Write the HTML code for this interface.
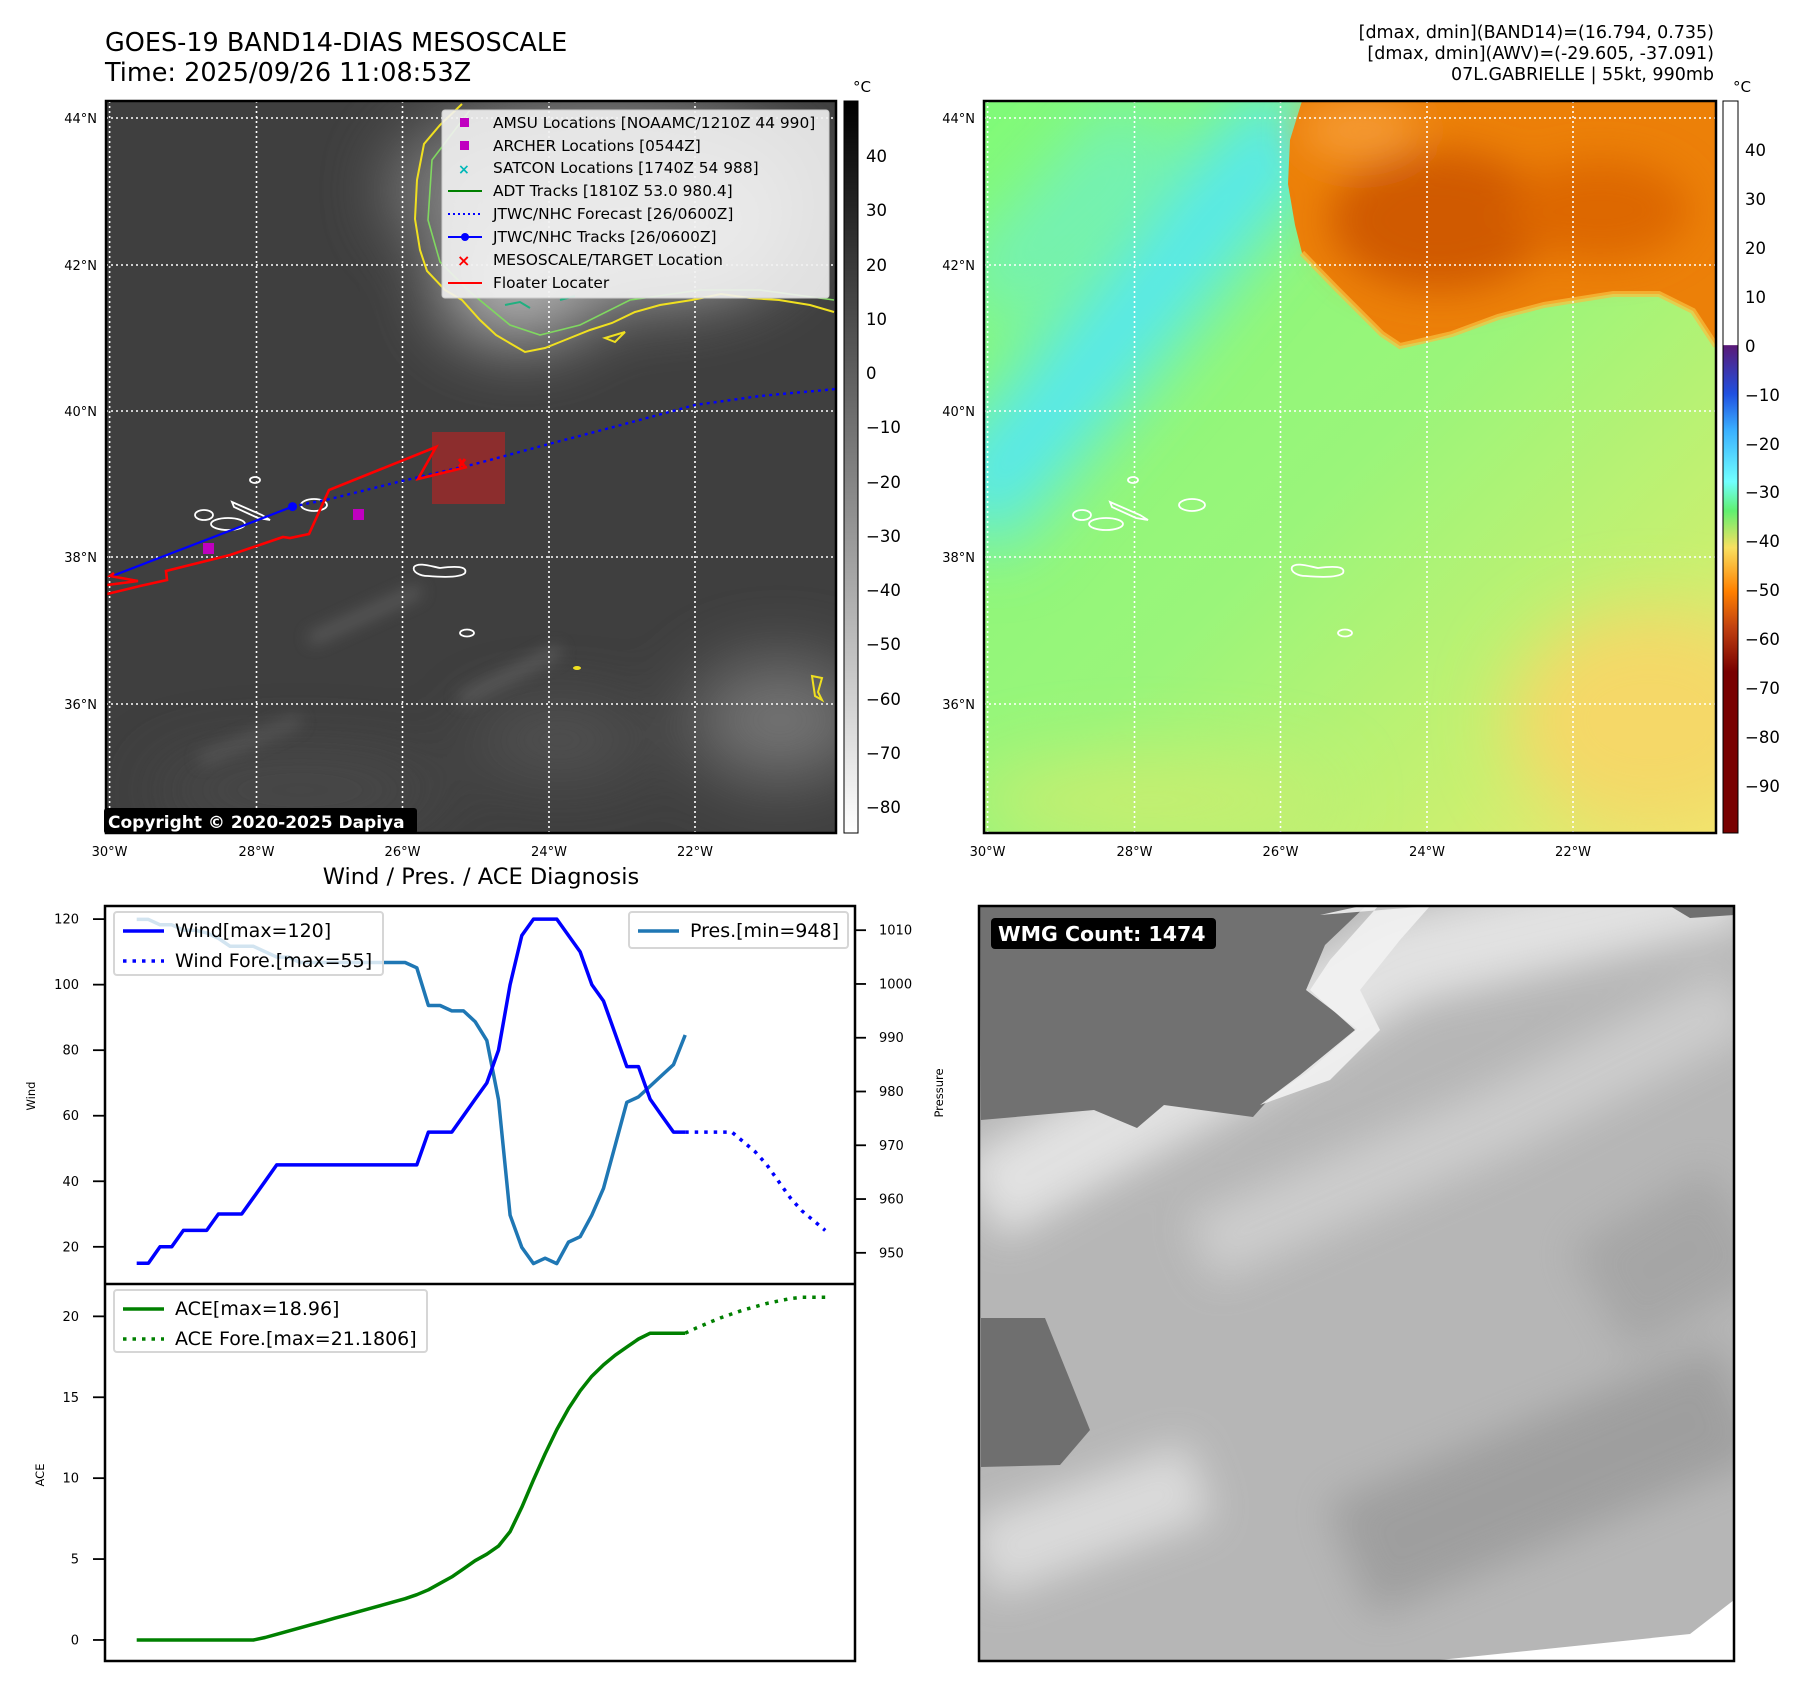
<!DOCTYPE html>
<html><head><meta charset="utf-8">
<style>
html,body{margin:0;padding:0;background:#fff;}
svg{display:block;font-family:"DejaVu Sans","Liberation Sans",sans-serif;}
</style></head>
<body>
<svg id="root" width="1797" height="1690" viewBox="0 0 1797 1690" xmlns="http://www.w3.org/2000/svg">
<defs>
  <filter id="blur8" x="-50%" y="-50%" width="200%" height="200%"><feGaussianBlur stdDeviation="8"/></filter>
  <filter id="blur20" x="-50%" y="-50%" width="200%" height="200%"><feGaussianBlur stdDeviation="20"/></filter>
  <filter id="blur35" x="-50%" y="-50%" width="200%" height="200%"><feGaussianBlur stdDeviation="35"/></filter>
  <clipPath id="clip1"><rect x="106" y="101" width="730" height="732"/></clipPath>
  <clipPath id="clip2"><rect x="984" y="101" width="732" height="732"/></clipPath>
  <clipPath id="clip4"><rect x="979" y="906" width="755" height="755"/></clipPath>
  <linearGradient id="cb1" x1="0" y1="0" x2="0" y2="1"><stop offset="0" stop-color="#000"/><stop offset="1" stop-color="#fff"/></linearGradient>
  <linearGradient id="cb2" x1="0" y1="0" x2="0" y2="1">
    <stop offset="0" stop-color="#fff"/><stop offset="0.333" stop-color="#fff"/>
    <stop offset="0.334" stop-color="#5a1a78"/>
    <stop offset="0.40" stop-color="#2050e0"/>
    <stop offset="0.45" stop-color="#3ab0ff"/>
    <stop offset="0.52" stop-color="#70ffff"/>
    <stop offset="0.56" stop-color="#60f070"/>
    <stop offset="0.61" stop-color="#f8e060"/>
    <stop offset="0.67" stop-color="#ff8000"/>
    <stop offset="0.72" stop-color="#c04010"/>
    <stop offset="0.78" stop-color="#780000"/>
    <stop offset="1" stop-color="#780000"/>
  </linearGradient>
  <linearGradient id="map2base" x1="0" y1="0" x2="1" y2="1">
    <stop offset="0" stop-color="#80fa78"/>
    <stop offset="0.5" stop-color="#9af57a"/>
    <stop offset="0.8" stop-color="#c8f070"/>
    <stop offset="1" stop-color="#f2e870"/>
  </linearGradient>
</defs>

<text x="105" y="51" font-size="25.5" fill="#000">GOES-19 BAND14-DIAS MESOSCALE</text>
<text x="105" y="81" font-size="25.5" fill="#000">Time: 2025/09/26 11:08:53Z</text>
<text x="1714" y="38" font-size="17.5" text-anchor="end">[dmax, dmin](BAND14)=(16.794, 0.735)</text>
<text x="1714" y="59" font-size="17.5" text-anchor="end">[dmax, dmin](AWV)=(-29.605, -37.091)</text>
<text x="1714" y="80" font-size="17.5" text-anchor="end">07L.GABRIELLE | 55kt, 990mb</text>

<g id="map1">
 <g clip-path="url(#clip1)">
  <rect x="106" y="101" width="730" height="732" fill="#3f3f3f"/>
  <g filter="url(#blur35)" opacity="0.9">
   <ellipse cx="600" cy="190" rx="210" ry="90" fill="#8a8a8a"/>
   <ellipse cx="520" cy="290" rx="80" ry="50" fill="#c8c8c8"/>
   <ellipse cx="640" cy="240" rx="150" ry="60" fill="#b0b0b0"/>
   <ellipse cx="780" cy="720" rx="90" ry="60" fill="#7a7a7a"/>
   <ellipse cx="560" cy="740" rx="90" ry="30" fill="#5a5a5a"/>
   <ellipse cx="300" cy="790" rx="150" ry="30" fill="#4e4e4e"/>
  </g>
  <g filter="url(#blur8)" opacity="0.6">
   <path d="M310 640 L420 590" stroke="#777" stroke-width="10"/>
   <path d="M460 700 L560 650" stroke="#777" stroke-width="10"/>
   <path d="M200 760 L300 720" stroke="#6a6a6a" stroke-width="10"/>
  </g>
  <g stroke="#fff" stroke-width="1.6" stroke-dasharray="2,3">
   <line x1="109.6" y1="101" x2="109.6" y2="833"/><line x1="256.5" y1="101" x2="256.5" y2="833"/><line x1="402.5" y1="101" x2="402.5" y2="833"/><line x1="549" y1="101" x2="549" y2="833"/><line x1="695" y1="101" x2="695" y2="833"/>
   <line x1="106" y1="118" x2="836" y2="118"/><line x1="106" y1="265" x2="836" y2="265"/><line x1="106" y1="411" x2="836" y2="411"/><line x1="106" y1="557" x2="836" y2="557"/><line x1="106" y1="704" x2="836" y2="704"/>
  </g>
  <path d="M462 104 L440 125 L424 144 L417 180 L415 219 L420 250 L427 271 L445 290 L462 300 L480 320 L496 335 L525 352 L545 348 L565 340 L590 330 L612 323 L635 312 L660 305 L692 300 L721 294 L750 298 L779 300 L810 305 L834 312" fill="none" stroke="#f0e020" stroke-width="2"/>
  <path d="M470 110 L432 160 L428 220 L440 262 L470 292 L510 325 L540 335 L580 325 L630 300 L700 290 L760 290 L834 300" fill="none" stroke="#80d860" stroke-width="1.6"/>
  <path d="M505 305 L520 302 L530 308 M560 300 L575 296" fill="none" stroke="#20b080" stroke-width="2"/>
  <path d="M605 338 L625 332 L615 342 Z" fill="none" stroke="#f0e020" stroke-width="2"/>
  <path d="M812 676 L822 678 L818 692 L822 700 L815 696 Z" fill="none" stroke="#f0e020" stroke-width="2"/>
  <ellipse cx="577" cy="668" rx="4" ry="2" fill="#f0e020"/>
  <g fill="none" stroke="#fff" stroke-width="1.8">
   <ellipse cx="255" cy="480" rx="5" ry="3"/>
   <ellipse cx="204" cy="515" rx="9" ry="5"/>
   <path d="M232 502 L262 515 L270 520 L258 518 L234 507 Z"/>
   <ellipse cx="228" cy="524" rx="17" ry="6"/>
   <ellipse cx="314" cy="505" rx="13" ry="6"/>
   <path d="M414 567 C418 562 430 566 440 568 C455 566 468 566 465 573 C460 578 440 577 428 576 C420 576 412 572 414 567 Z"/>
   <ellipse cx="467" cy="633" rx="7" ry="3.5"/>
  </g>
  <rect x="432" y="432" width="73" height="72" fill="#9a2a2a" opacity="0.85"/>
  <path d="M292.5 506.6 L330 499 L402 481 L475 464 L549 444 L621 425 L695 405 L760 396 L836 389" fill="none" stroke="#0000ff" stroke-width="2.4" stroke-dasharray="3,4"/>
  <path d="M109.6 577 L292.5 506.6" stroke="#0000ff" stroke-width="2.2"/>
  <circle cx="292.5" cy="506.6" r="4.5" fill="#0000ff"/>
  <path d="M107 594 L140 586 L167 580 L166 571 L230 555 L283 537 L290 538 L309 534 L329 490 L436 447 L418 479 L467 467 M107 585 L138 581 L110 576 L114 573" fill="none" stroke="#ff0000" stroke-width="2.6"/>
  <path d="M459 459 L465 467 M465 459 L459 467" stroke="#ff0000" stroke-width="3"/>
  <rect x="203" y="543" width="11" height="11" fill="#c000c0"/>
  <rect x="353" y="509" width="11" height="11" fill="#c000c0"/>
 </g>
 <rect x="106" y="101" width="730" height="732" fill="none" stroke="#000" stroke-width="2.5"/>
 <g>
  <rect x="442" y="110" width="387" height="188" rx="3" fill="#f2f2f2" fill-opacity="0.9" stroke="#ccc"/>
  <g font-size="15.4" fill="#000">
   <rect x="460" y="118" width="9" height="9" fill="#c000c0"/><text x="493" y="128">AMSU Locations [NOAAMC/1210Z 44 990]</text>
   <rect x="460" y="141" width="9" height="9" fill="#c000c0"/><text x="493" y="151">ARCHER Locations [0544Z]</text>
   <text x="458" y="174" fill="#00b8b8" font-size="14" font-weight="bold">×</text><text x="493" y="173">SATCON Locations [1740Z 54 988]</text>
   <line x1="448" y1="191" x2="482" y2="191" stroke="#008000" stroke-width="2"/><text x="493" y="196">ADT Tracks [1810Z 53.0 980.4]</text>
   <line x1="448" y1="214" x2="482" y2="214" stroke="#0000ff" stroke-width="2" stroke-dasharray="2,3"/><text x="493" y="219">JTWC/NHC Forecast [26/0600Z]</text>
   <line x1="448" y1="237" x2="482" y2="237" stroke="#0000ff" stroke-width="2"/><circle cx="465" cy="237" r="4" fill="#0000ff"/><text x="493" y="242">JTWC/NHC Tracks [26/0600Z]</text>
   <text x="457" y="266" fill="#ff0000" font-size="16" font-weight="bold">×</text><text x="493" y="265">MESOSCALE/TARGET Location</text>
   <line x1="448" y1="283" x2="482" y2="283" stroke="#ff0000" stroke-width="2"/><text x="493" y="288">Floater Locater</text>
  </g>
 </g>
 <rect x="104" y="808" width="313" height="26" rx="3" fill="#000"/>
 <text x="108" y="828" font-size="17" font-weight="bold" fill="#fff">Copyright © 2020-2025 Dapiya</text>
 <g font-size="13" fill="#000" text-anchor="end">
  <text x="97" y="123">44°N</text><text x="97" y="270">42°N</text><text x="97" y="416">40°N</text><text x="97" y="562">38°N</text><text x="97" y="709">36°N</text>
 </g>
 <g font-size="13" fill="#000" text-anchor="middle">
  <text x="109.6" y="856">30°W</text><text x="256.5" y="856">28°W</text><text x="402.5" y="856">26°W</text><text x="549" y="856">24°W</text><text x="695" y="856">22°W</text>
 </g>
 <rect x="844" y="101" width="14" height="732" fill="url(#cb1)" stroke="#000" stroke-width="1"/>
 <text x="862" y="92" font-size="15" text-anchor="middle">°C</text>
 <g font-size="16.5" fill="#000">
  <text x="866" y="162">40</text><text x="866" y="216">30</text><text x="866" y="271">20</text><text x="866" y="325">10</text><text x="866" y="379">0</text><text x="866" y="433">−10</text><text x="866" y="488">−20</text><text x="866" y="542">−30</text><text x="866" y="596">−40</text><text x="866" y="650">−50</text><text x="866" y="705">−60</text><text x="866" y="759">−70</text><text x="866" y="813">−80</text>
 </g>
</g>

<g id="map2">
 <g clip-path="url(#clip2)">
  <rect x="984" y="101" width="732" height="732" fill="url(#map2base)"/>
  <g filter="url(#blur35)">
   <path d="M960 520 L1120 330 L1300 110" stroke="#55e8f0" stroke-width="100" fill="none"/>
   <path d="M980 300 L1150 120" stroke="#70f0c0" stroke-width="70" fill="none"/>
   <ellipse cx="1650" cy="720" rx="140" ry="110" fill="#f5d868"/>
   <ellipse cx="1150" cy="800" rx="180" ry="40" fill="#c8ee70"/>
  </g>
  <path d="M1302 101 L1290 140 L1288 184 L1295 225 L1302 253 L1336 288 L1382 334 L1400 346 L1430 340 L1452 334 L1498 317 L1544 305 L1613 294 L1659 294 L1693 311 L1716 346 L1716 101 Z" fill="#ec8008"/>
  <g filter="url(#blur20)">
   <ellipse cx="1440" cy="220" rx="110" ry="70" fill="#d05a00"/>
   <ellipse cx="1600" cy="210" rx="90" ry="50" fill="#dd6800"/>
   <ellipse cx="1360" cy="130" rx="60" ry="30" fill="#f59a30"/>
  </g>
  <path d="M1302 253 L1336 288 L1382 334 L1400 346 L1452 334 L1498 317 L1544 305 L1613 294 L1659 294 L1693 311 L1716 346" fill="none" stroke="#f8c040" stroke-width="6" opacity="0.7"/>
  <g stroke="#fff" stroke-width="1.6" stroke-dasharray="2,3">
   <line x1="987.6" y1="101" x2="987.6" y2="833"/><line x1="1134.5" y1="101" x2="1134.5" y2="833"/><line x1="1280.5" y1="101" x2="1280.5" y2="833"/><line x1="1427" y1="101" x2="1427" y2="833"/><line x1="1573" y1="101" x2="1573" y2="833"/>
   <line x1="984" y1="118" x2="1716" y2="118"/><line x1="984" y1="265" x2="1716" y2="265"/><line x1="984" y1="411" x2="1716" y2="411"/><line x1="984" y1="557" x2="1716" y2="557"/><line x1="984" y1="704" x2="1716" y2="704"/>
  </g>
  <g fill="none" stroke="#fff" stroke-width="1.8">
   <ellipse cx="1133" cy="480" rx="5" ry="3"/>
   <ellipse cx="1082" cy="515" rx="9" ry="5"/>
   <path d="M1110 502 L1140 515 L1148 520 L1136 518 L1112 507 Z"/>
   <ellipse cx="1106" cy="524" rx="17" ry="6"/>
   <ellipse cx="1192" cy="505" rx="13" ry="6"/>
   <path d="M1292 567 C1296 562 1308 566 1318 568 C1333 566 1346 566 1343 573 C1338 578 1318 577 1306 576 C1298 576 1290 572 1292 567 Z"/>
   <ellipse cx="1345" cy="633" rx="7" ry="3.5"/>
  </g>
 </g>
 <rect x="984" y="101" width="732" height="732" fill="none" stroke="#000" stroke-width="2.5"/>
 <g font-size="13" fill="#000" text-anchor="end">
  <text x="975" y="123">44°N</text><text x="975" y="270">42°N</text><text x="975" y="416">40°N</text><text x="975" y="562">38°N</text><text x="975" y="709">36°N</text>
 </g>
 <g font-size="13" fill="#000" text-anchor="middle">
  <text x="987.6" y="856">30°W</text><text x="1134.5" y="856">28°W</text><text x="1280.5" y="856">26°W</text><text x="1427" y="856">24°W</text><text x="1573" y="856">22°W</text>
 </g>
 <rect x="1723" y="101" width="15" height="732" fill="url(#cb2)" stroke="#000" stroke-width="1"/>
 <text x="1742" y="92" font-size="15" text-anchor="middle">°C</text>
 <g font-size="16.5" fill="#000">
  <text x="1745" y="156">40</text><text x="1745" y="205">30</text><text x="1745" y="254">20</text><text x="1745" y="303">10</text><text x="1745" y="352">0</text><text x="1745" y="401">−10</text><text x="1745" y="450">−20</text><text x="1745" y="498">−30</text><text x="1745" y="547">−40</text><text x="1745" y="596">−50</text><text x="1745" y="645">−60</text><text x="1745" y="694">−70</text><text x="1745" y="743">−80</text><text x="1745" y="792">−90</text>
 </g>
</g>

<g id="panel4">
 <g clip-path="url(#clip4)">
  <rect x="979" y="906" width="755" height="755" fill="#b6b6b6"/>
  <g filter="url(#blur20)" opacity="0.9">
   <path d="M980 1200 L1200 1080 L1400 960 L1740 880" stroke="#e6e6e6" stroke-width="90" fill="none"/>
   <path d="M1200 1250 L1500 1120 L1740 1000" stroke="#cfcfcf" stroke-width="70" fill="none"/>
   <path d="M1350 1560 L1740 1400" stroke="#9c9c9c" stroke-width="120" fill="none"/>
   <path d="M980 1560 L1200 1480" stroke="#dedede" stroke-width="80" fill="none"/>
   <path d="M1600 1300 L1740 1220" stroke="#a4a4a4" stroke-width="120" fill="none"/>
  </g>
  <path d="M980 904 L1368 904 L1325 945 L1306 990 L1357 1029 L1309 1071 L1271 1097 L1253 1117 L1164 1105 L1137 1128 L1094 1110 L981 1120 Z" fill="#717171"/>
  <path d="M981 1318 L1045 1318 L1070 1380 L1090 1430 L1060 1465 L981 1467 Z" fill="#6f6f6f"/>
  <path d="M1320 915 L1370 904 L1380 904 L1330 960 L1310 990 L1355 1030 L1300 1075 L1260 1105 L1330 1080 L1380 1030 L1360 990 L1400 940 L1430 906 Z" fill="#f2f2f2" opacity="0.9"/>
  <path d="M1670 906 L1734 906 L1734 915 L1690 918 Z" fill="#6f6f6f"/>
  <path d="M1430 1661 L1690 1634 L1734 1600 L1734 1661 Z" fill="#fff"/>
 </g>
 <rect x="979" y="906" width="755" height="755" fill="none" stroke="#000" stroke-width="2.5"/>
 <rect x="991" y="918" width="225" height="31" rx="4" fill="#000"/>
 <text x="998" y="941" font-size="20.5" font-weight="bold" fill="#fff">WMG Count: 1474</text>
</g>

<text x="481" y="884" font-size="22.5" text-anchor="middle">Wind / Pres. / ACE Diagnosis</text>
<g id="chart"></g>
</svg>

<script>
// ---- data ----
const wind = [15,15,20,20,25,25,25,30,30,30,35,40,45,45,45,45,45,45,45,45,45,45,45,45,45,55,55,55,60,65,70,80,100,115,120,120,120,115,110,100,95,85,75,75,65,60,55,55];
const windFore = [55,55,55,55,55,52,49,45,40,35,31,28,25];
const pres = [1012,1012,1011,1011,1010,1010,1009.5,1008.5,1007,1007,1007,1006,1005,1005,1004,1004,1004,1004,1004,1004,1004,1004,1004,1004,1003,996,996,995,995,993,989.5,978.5,957,951,948,949,948,952,953,957,962,970,978,979,981,983,985,990.5];
const ace = [0,0,0,0,0,0,0,0,0,0,0,0.15,0.35,0.55,0.75,0.95,1.15,1.35,1.55,1.75,1.95,2.15,2.35,2.55,2.8,3.1,3.5,3.9,4.4,4.9,5.3,5.8,6.7,8.2,9.9,11.5,13.0,14.3,15.4,16.3,17.0,17.6,18.1,18.6,18.96,18.96,18.96,18.96];
const aceFore = [18.96,19.3,19.6,19.9,20.15,20.4,20.6,20.8,20.95,21.1,21.18,21.18,21.18];
const windTicks = [20,40,60,80,100,120];
const presTicks = [950,960,970,980,990,1000,1010];
const aceTicks = [0,5,10,15,20];

const NS='http://www.w3.org/2000/svg';
const chart=document.getElementById('chart');
function mk(tag,attrs,parent){const e=document.createElementNS(NS,tag);for(const k in attrs)e.setAttribute(k,attrs[k]);(parent||chart).appendChild(e);return e;}
const L=105,R=855,T1=906,B1=1284,B2=1661;
const xs=i=>136.7+i*11.67;
const yWind=v=>T1+(124-v)/(124-8.65)*(B1-T1);
const yPres=v=>T1+(1014.5-v)/(1014.5-944.2)*(B1-T1);
const yAce=v=>B1+(22.0-v)/(22.0+1.3)*(B2-B1);
function pts(arr,off,fy){return arr.map((v,i)=>xs(i+off).toFixed(1)+','+fy(v).toFixed(1)).join(' ');}

mk('rect',{x:L,y:T1,width:R-L,height:B2-T1,fill:'#fff'});

const pl=mk('polyline',{points:pts(pres,0,yPres),fill:'none',stroke:'#1f77b4','stroke-width':3.5,'stroke-linejoin':'round'});


const wl=mk('polyline',{points:pts(wind,0,yWind),fill:'none',stroke:'#0000ff','stroke-width':3.5,'stroke-linejoin':'round'});


const wf=mk('polyline',{points:pts(windFore,wind.length-1,yWind),fill:'none',stroke:'#0000ff','stroke-width':3.5,'stroke-dasharray':'3.5,6'});


const al=mk('polyline',{points:pts(ace,0,yAce),fill:'none',stroke:'#008000','stroke-width':3.5,'stroke-linejoin':'round'});


const af=mk('polyline',{points:pts(aceFore,ace.length-1,yAce),fill:'none',stroke:'#008000','stroke-width':3.5,'stroke-dasharray':'3.5,6'});



mk('rect',{x:L,y:T1,width:R-L,height:B2-T1,fill:'none',stroke:'#000','stroke-width':2.5});
mk('line',{x1:L,y1:B1,x2:R,y2:B1,stroke:'#000','stroke-width':2.5});

windTicks.forEach(v=>{const y=yWind(v);mk('line',{x1:L-12,y1:y,x2:L,y2:y,stroke:'#000','stroke-width':1.8});
 const t=mk('text',{x:79,y:y+4.5,'font-size':13,'text-anchor':'end'});t.textContent=v;
 
 });
presTicks.forEach(v=>{const y=yPres(v);mk('line',{x1:R,y1:y,x2:R+11,y2:y,stroke:'#000','stroke-width':1.8});
 const t=mk('text',{x:879,y:y+4.5,'font-size':13});t.textContent=v;
 
 });
aceTicks.forEach(v=>{const y=yAce(v);mk('line',{x1:L-12,y1:y,x2:L,y2:y,stroke:'#000','stroke-width':1.8});
 const t=mk('text',{x:79,y:y+4.5,'font-size':13,'text-anchor':'end'});t.textContent=v;
 
 });

const at1=mk('text',{x:0,y:0,'font-size':11.5,'text-anchor':'middle',transform:'translate(35,1096) rotate(-90)'});at1.textContent='Wind';


const at2=mk('text',{x:0,y:0,'font-size':11.5,'text-anchor':'middle',transform:'translate(943,1093) rotate(-90)'});at2.textContent='Pressure';


const at3=mk('text',{x:0,y:0,'font-size':11.5,'text-anchor':'middle',transform:'translate(44,1475) rotate(-90)'});at3.textContent='ACE';



function legend(x,y,w,h,items,name){
 const g=mk('g',{});
 
 
 mk('rect',{x:x,y:y,width:w,height:h,rx:3,fill:'#fff','fill-opacity':0.8,stroke:'#d6d6d6','stroke-width':2},g);
 items.forEach((it,k)=>{const cy=y+19+k*30;
  const ln=mk('line',{x1:x+9,y1:cy,x2:x+50,y2:cy,stroke:it.c,'stroke-width':3.5},g);
  if(it.d)ln.setAttribute('stroke-dasharray','3.5,6');
  const t=mk('text',{x:x+61,y:cy+6,'font-size':19},g);t.textContent=it.t;});
}
legend(114,912,269,63,[{c:'#0000ff',t:'Wind[max=120]'},{c:'#0000ff',d:1,t:'Wind Fore.[max=55]'}],'wind-legend');
legend(629,912,219,36,[{c:'#1f77b4',t:'Pres.[min=948]'}],'pressure-legend');
legend(114,1290,313,62,[{c:'#008000',t:'ACE[max=18.96]'},{c:'#008000',d:1,t:'ACE Fore.[max=21.1806]'}],'ace-legend');
</script>
</body></html>
